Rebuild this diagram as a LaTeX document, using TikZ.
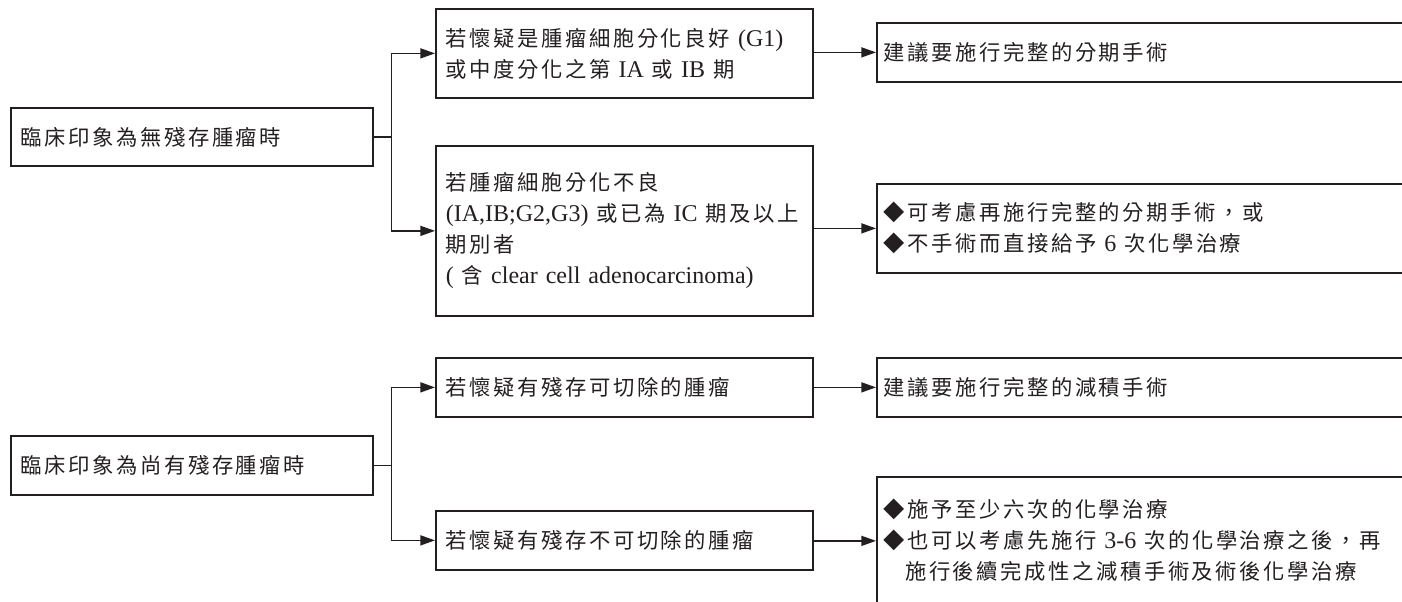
\documentclass[tikz,border=0pt]{standalone}
\usepackage{fontspec}
\setmainfont{Liberation Serif}
\newfontfamily\cjk[LetterSpace=12]{Noto Sans CJK TC}
\usetikzlibrary{arrows.meta}
\definecolor{ink}{RGB}{35,31,32}
\newcommand{\zht}[1]{{\cjk\fontsize{16}{23.25}\selectfont #1}}
\begin{document}
\begin{tikzpicture}[x=0.75pt,y=-0.75pt,
  font=\fontsize{18}{23.25}\selectfont,
  box/.style={draw=ink, line width=1.3pt, align=left, anchor=north west, inner ysep=0pt, text=ink},
  boxA/.style={box, inner xsep=7.5pt, text width=256.5pt},
  boxB/.style={box, inner xsep=7.5pt, text width=267.75pt},
  boxC/.style={box, inner xsep=5.25pt, text width=439.5pt},
  conn/.style={draw=ink, line width=1.1pt},
  arr/.style={conn, -{Triangle[length=11pt,width=7.5pt]}}]
\useasboundingbox (0,0) rectangle (1402,601);
\begin{scope}
\clip (0,0) rectangle (1402,601);
% upper group
\node[boxA, minimum height=43.5pt] (A1) at (10,107) {\zht{臨床印象為無殘存腫瘤時}};
\node[boxB, minimum height=66.75pt] (B1) at (435,8) {\zht{若懷疑是腫瘤細胞分化良好} (G1)\\\zht{或中度分化之第} IA \zht{或} IB \zht{期}};
\node[boxB, minimum height=127.5pt] (B2) at (435,145) {\zht{若腫瘤細胞分化不良}\\(IA,IB;G2,G3) \zht{或已為} IC \zht{期及以上}\\\zht{期別者}\\( \zht{含} clear cell adenocarcinoma)};
\node[boxC, minimum height=44.25pt] (C1) at (876,22) {\zht{建議要施行完整的分期手術}};
\node[boxC, minimum height=66.75pt] (C2) at (876,183) {\zht{◆可考慮再施行完整的分期手術，或}\\\zht{◆不手術而直接給予} 6 \zht{次化學治療}};
% lower group
\node[boxA, minimum height=44.25pt] (A2) at (10,435) {\zht{臨床印象為尚有殘存腫瘤時}};
\node[boxB, minimum height=44.25pt] (B3) at (435,357) {\zht{若懷疑有殘存可切除的腫瘤}};
\node[boxB, minimum height=44.25pt] (B4) at (435,510) {\zht{若懷疑有殘存不可切除的腫瘤}};
\node[boxC, minimum height=44.25pt] (C3) at (876,357) {\zht{建議要施行完整的減積手術}};
\node[boxC, minimum height=96pt] (C4) at (876,476) {\zht{◆施予至少六次的化學治療}\\\zht{◆也可以考慮先施行} 3-6 \zht{次的化學治療之後，再}\\\zht{\phantom{◆}施行後續完成性之減積手術及術後化學治療}};
% connectors
\draw[arr] (A1.east) -- ++(18,0) |- (B1.west);
\draw[arr] (A1.east) -- ++(18,0) |- (B2.west);
\draw[arr] (B1.east |- C1.west) -- (C1.west);
\draw[arr] (B2.east |- C2.west) -- (C2.west);
\draw[arr] (A2.east) -- ++(18,0) |- (B3.west);
\draw[arr] (A2.east) -- ++(18,0) |- (B4.west);
\draw[arr] (B3.east |- C3.west) -- (C3.west);
\draw[arr] (B4.east |- C4.west) -- (C4.west);
\end{scope}
\end{tikzpicture}
\end{document}
